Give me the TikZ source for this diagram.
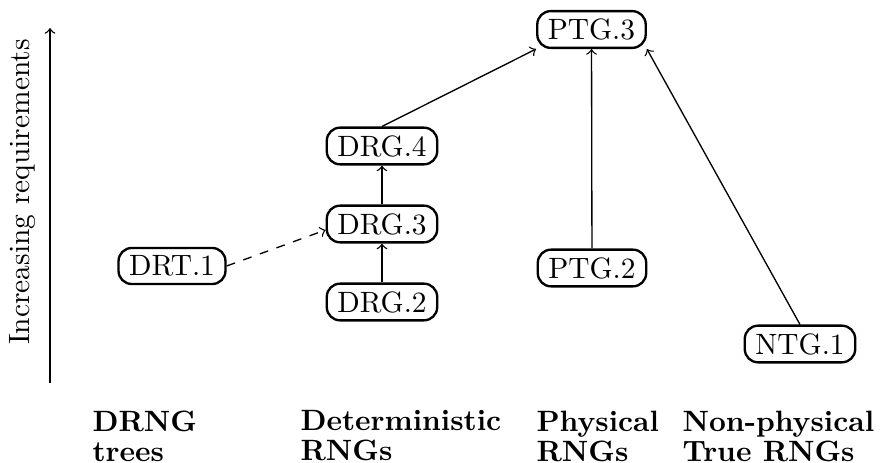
\documentclass[tikz,border=0pt]{standalone}
\usetikzlibrary{arrows}
\begin{document}
\begin{tikzpicture}[x=0.34pt,y=-0.34pt,
  req/.style={draw,line width=0.8pt,rounded corners=4.5pt,inner xsep=3.6pt,inner ysep=2.6pt},
  conn/.style={->,line width=0.45pt},
  cat/.style={anchor=north west,inner sep=0pt,align=left,font=\fontsize{10}{10.2}\selectfont\bfseries}]
\useasboundingbox (0,0) rectangle (882,463);
% axis
\coordinate (axb) at (50,383);
\coordinate (axt) at (50,28);
\draw[conn] (axb) -- (axt);
\node[rotate=90] (axl) at (22,192) {Increasing requirements};
% nodes
\node[req] (PTG3) at (591.5,29.5) {PTG.3};
\node[req] (DRG4) at (382,146) {DRG.4};
\node[req] (DRG3) at (382,224) {DRG.3};
\node[req] (DRG2) at (382,302) {DRG.2};
\node[req] (DRT1) at (172,266) {DRT.1};
\node[req] (PTG2) at (592,268) {PTG.2};
\node[req] (NTG1) at (800,344) {NTG.1};
% connectors
\draw[conn] (DRG2) -- (DRG3);
\draw[conn] (DRG3) -- (DRG4);
\draw[conn] (DRG4.north) -- (PTG3.south west);
\draw[conn] (PTG2) -- (PTG3);
\draw[conn] (NTG1.north) -- (PTG3.south east);
\draw[conn,dashed] (DRT1.east) -- ([yshift=-6*0.34pt]DRG3.west);
% categories
\node[cat] (c1) at (92,410) {DRNG\\trees};
\node[cat] (c2) at (300,410) {Deterministic\\RNGs};
\node[cat] (c3) at (536,410) {Physical\\RNGs};
\node[cat] (c4) at (682,410) {Non-physical\\True RNGs};
\end{tikzpicture}
\end{document}
